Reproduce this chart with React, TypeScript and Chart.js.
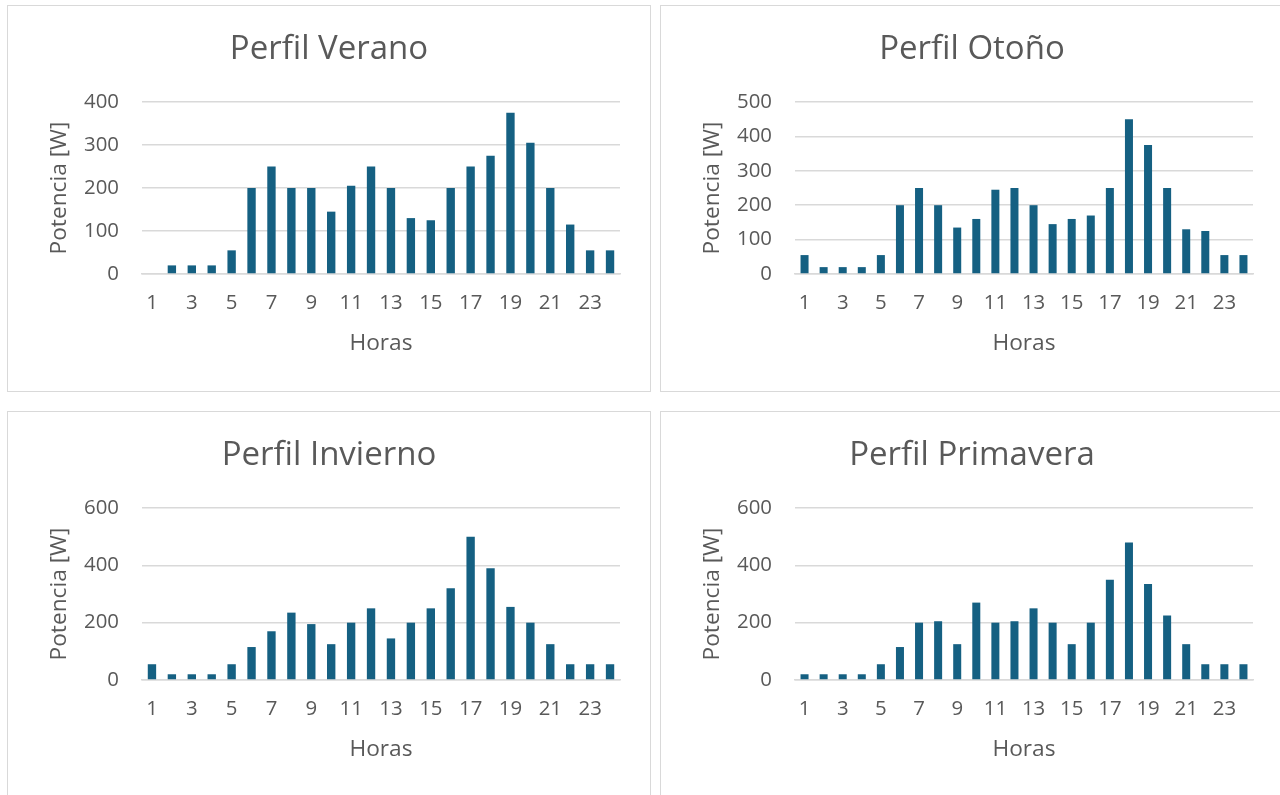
import React, { useEffect, useRef } from "react";
import { Chart, registerables } from "chart.js";

Chart.register(...registerables);

const horas = ["1","2","3","4","5","6","7","8","9","10","11","12","13","14","15","16","17","18","19","20","21","22","23","24"];

const verano = [0, 20, 20, 20, 55, 200, 250, 200, 200, 145, 205, 250, 200, 130, 125, 200, 250, 275, 375, 305, 200, 115, 55, 55];
const otono = [55, 20, 20, 20, 55, 200, 250, 200, 135, 160, 245, 250, 200, 145, 160, 170, 250, 450, 375, 250, 130, 125, 55, 55];
const invierno = [55, 20, 20, 20, 55, 115, 170, 235, 195, 125, 200, 250, 145, 200, 250, 320, 500, 390, 255, 200, 125, 55, 55, 55];
const primavera = [20, 20, 20, 20, 55, 115, 200, 205, 125, 270, 200, 205, 250, 200, 125, 200, 350, 480, 335, 225, 125, 55, 55, 55];

const titulos = ["Perfil Verano", "Perfil Otoño", "Perfil Invierno", "Perfil Primavera"];
const ejeY = "Potencia [W]";
const ejeX = "Horas";
const yMax = [400, 500, 600, 600];
const yStep = [100, 100, 200, 200];

const FONT = "'Open Sans', 'Liberation Sans', sans-serif";
const TEXT = "#595959";
const GRID = "#d9d9d9";
const BAR = "#156082";

function Panel(props: { title: string; data: number[]; max: number; step: number; left: number; top: number; width: number; height: number }) {
  const ref = useRef<HTMLCanvasElement | null>(null);
  useEffect(() => {
    if (!ref.current) return;
    const chart = new Chart(ref.current, {
      type: "bar",
      data: {
        labels: horas,
        datasets: [
          {
            data: props.data,
            backgroundColor: BAR,
            borderWidth: 0,
            categoryPercentage: 1,
            barPercentage: 0.42,
          },
        ],
      },
      options: {
        animation: false,
        responsive: false,
        maintainAspectRatio: false,
        layout: { padding: { left: 0, right: 0, top: 0, bottom: 27 } },
        plugins: {
          legend: { display: false },
          tooltip: { enabled: false },
          title: {
            display: true,
            text: props.title,
            color: TEXT,
            font: { family: FONT, size: 33, weight: "normal" },
            padding: { top: 23.6, bottom: 32.8 },
          },
        },
        scales: {
          x: {
            grid: { display: false, drawTicks: false },
            border: { display: true, color: GRID, width: 1.5 },
            ticks: {
              autoSkip: false,
              maxRotation: 0,
              minRotation: 0,
              padding: 17,
              color: TEXT,
              font: { family: FONT, size: 20.4 },
              callback: (_v: any, i: number) => (i % 2 === 0 ? horas[i] : ""),
            },
            title: {
              display: true,
              text: ejeX,
              color: TEXT,
              font: { family: FONT, size: 22.7 },
              padding: { top: 0, bottom: 6.4 },
            },
            afterFit: (s: any) => {
              s.height = 90;
            },
          },
          y: {
            min: 0,
            max: props.max,
            grid: { color: GRID, lineWidth: 1.5, drawTicks: false },
            border: { display: false },
            ticks: {
              stepSize: props.step,
              padding: 23,
              color: TEXT,
              font: { family: FONT, size: 20.4 },
            },
            title: {
              display: true,
              text: ejeY,
              color: TEXT,
              font: { family: FONT, size: 22.7 },
              padding: { top: 38, bottom: 0 },
            },
            afterFit: (s: any) => {
              s.width = 134;
            },
          },
          margen: {
            type: "linear",
            position: "right",
            display: true,
            grid: { display: false, drawTicks: false },
            border: { display: false },
            ticks: { display: false },
            afterFit: (s: any) => {
              s.width = 30;
            },
          },
        },
      },
    });
    return () => chart.destroy();
  }, []);
  return (
    <div
      style={{
        position: "absolute",
        left: props.left,
        top: props.top,
        width: props.width,
        height: props.height,
        border: `1px solid ${GRID}`,
        boxSizing: "border-box",
        background: "#fff",
      }}
    >
      <canvas ref={ref} width={props.width - 2} height={props.height - 2} style={{ display: "block" }} />
    </div>
  );
}

export default function App() {
  return (
    <div style={{ position: "fixed", left: 0, top: 0, width: 1280, height: 795, overflow: "hidden", background: "#fff" }}>
      <Panel title={titulos[0]} data={verano} max={yMax[0]} step={yStep[0]} left={7} top={5} width={644} height={387} />
      <Panel title={titulos[1]} data={otono} max={yMax[1]} step={yStep[1]} left={660} top={5} width={624} height={387} />
      <Panel title={titulos[2]} data={invierno} max={yMax[2]} step={yStep[2]} left={7} top={411} width={644} height={387} />
      <Panel title={titulos[3]} data={primavera} max={yMax[3]} step={yStep[3]} left={660} top={411} width={624} height={387} />
    </div>
  );
}
